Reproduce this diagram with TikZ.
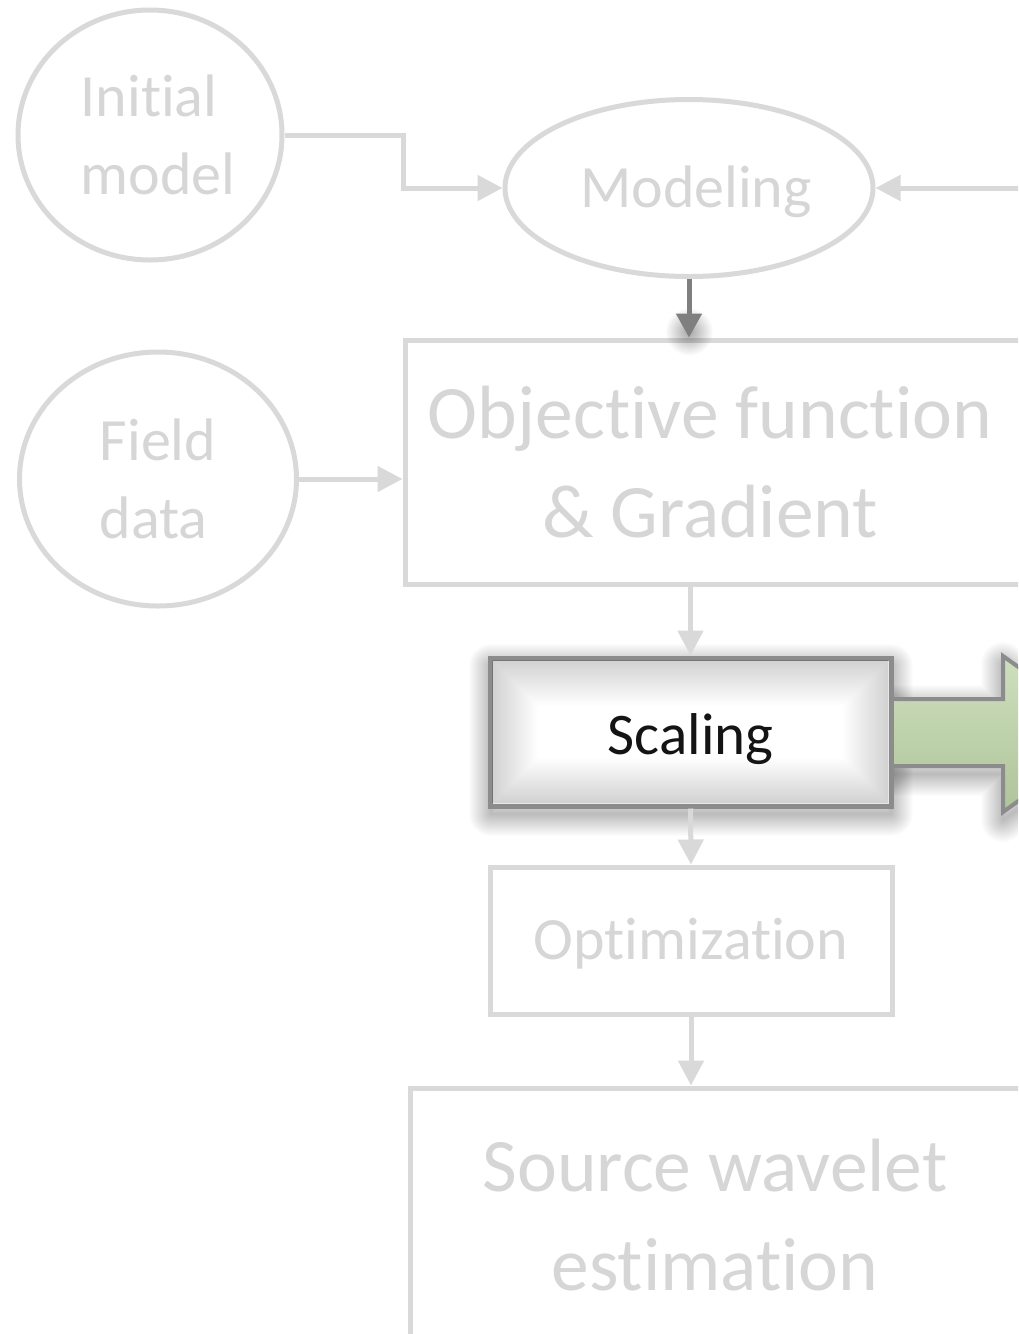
\documentclass[tikz,border=0pt]{standalone}
\usepackage{fontspec}
\setmainfont{Carlito}[Ligatures={NoCommon,NoRare,NoContextual}]
\usetikzlibrary{arrows.meta,calc,shapes.geometric,fadings}
\definecolor{lg}{RGB}{217,217,217}
\definecolor{lt}{RGB}{214,214,214}
\definecolor{dg}{RGB}{127,127,127}
\definecolor{bd}{RGB}{140,140,140}
\definecolor{gtop}{RGB}{206,223,190}
\definecolor{gbot}{RGB}{174,196,153}
\definecolor{tx}{RGB}{20,20,20}
\tikzfading[name=softspot, inner color=transparent!0, outer color=transparent!100]
\newcommand{\nolig}{\kern0pt}
\begin{document}
\begin{tikzpicture}[x=1pt,y=-1pt,
  lbox/.style={draw=lg, line width=5pt, rectangle, inner sep=0pt},
  lell/.style={draw=lg, line width=5pt, ellipse, inner sep=0pt},
  small/.style={text=lt, font=\fontsize{60}{78}\selectfont},
  big/.style={text=lt, font=\fontsize{75.5}{99}\selectfont},
  conn/.style={draw=lg, line width=5pt, -{Triangle[length=25pt,width=25pt]}},
  dconn/.style={draw=dg, line width=5pt, -{Triangle[length=24pt,width=25pt]}},
  glow/.style={draw=black, opacity=0.011, line join=round},
  ]
\useasboundingbox (0,0) rectangle (1018,1334);
\fill[white] (0,0) rectangle (1018,1334);
\clip (0,0) rectangle (1018,1334);

% nodes
\node[lell, minimum width=264pt, minimum height=250pt,
  label={[small, align=left, xshift=8pt]center:{Init\nolig ial\\model}}] (init) at (150,135) {};
\node[lell, minimum width=277pt, minimum height=254pt,
  label={[small, align=left]center:{Field\\data}}] (field) at (158,479) {};
\node[lell, minimum width=368pt, minimum height=177pt,
  label={[small, xshift=7pt, yshift=-4pt]center:Modeling}] (mod) at (689,188) {};
\node[lbox, minimum width=640pt, minimum height=244pt,
  label={[big, align=center, xshift=-15pt]center:{Object\nolig ive funct\nolig ion\\\& Gradient}}] (obj) at (725,462) {};
\node[lbox, minimum width=402pt, minimum height=147pt,
  label={[small, yshift=-3pt]center:{Opt\nolig imizat\nolig ion}}] (opt) at (691,940.5) {};
\node[lbox, minimum width=640pt, minimum height=300pt,
  label={[big, align=center, xshift=-15pt, yshift=23pt]center:{Source wavelet\\est\nolig imat\nolig ion}}] (src) at (730,1238) {};

% soft shadows of the scaling box and the green arrow
\coordinate (sc) at (891,732);
\foreach \w in {2,4,...,44}{
  \draw[glow, line width=\w pt] (490.5,666) rectangle (890.5,814);
  \draw[glow, line width=\w pt] ($(sc)+(-4,-25)$) -- (1003,707) -- (1003,664) -- (1112,742) -- (1003,820) -- (1003,774) -- ($(sc)+(-4,42)$) -- cycle;
}

% green arrow
\path[draw=bd, line width=4pt, top color=gtop, bottom color=gbot]
  ($(sc)+(-4,-33)$) -- (1003,699) -- (1003,656) -- (1112,734) -- (1003,812) -- (1003,766) -- ($(sc)+(-4,34)$) -- cycle;

% scaling box
\node[rectangle, draw=bd, line width=5pt, fill=white, inner sep=0pt,
  minimum width=401pt, minimum height=148pt] (scal) at (690.5,732) {};
\foreach \d in {4,6,...,50}{
  \fill[black, opacity=0.008, even odd rule]
    ($(scal.north west)+(5,5)$) rectangle ($(scal.south east)+(-5,-5)$)
    ($(scal.north west)+(\d,\d)$) rectangle ($(scal.south east)+(-\d,-\d)$);
}
\node[text=tx, font=\fontsize{59}{78}\selectfont, yshift=-7pt] (scaltxt) at (scal.center) {Scaling};

% connectors
\coordinate (rin) at (1030,188);
\draw[conn] (init.east) -- ++(119,0) |- (mod.west);
\draw[conn] (rin) -- (mod.east);
\draw[conn] (field.east) -- (field.east -| obj.west);
\draw[conn] (scal.north |- obj.south) -- (scal.north);
\draw[conn] (scal.south) -- (opt.north);
\draw[conn] (opt.south) -- (opt.south |- src.north);
\fill[black, opacity=0.35, path fading=softspot] ($(mod.south |- obj.north)+(0,-6)$) circle (24pt);
\draw[dconn] (mod.south) -- (mod.south |- obj.north);
\end{tikzpicture}
\end{document}
